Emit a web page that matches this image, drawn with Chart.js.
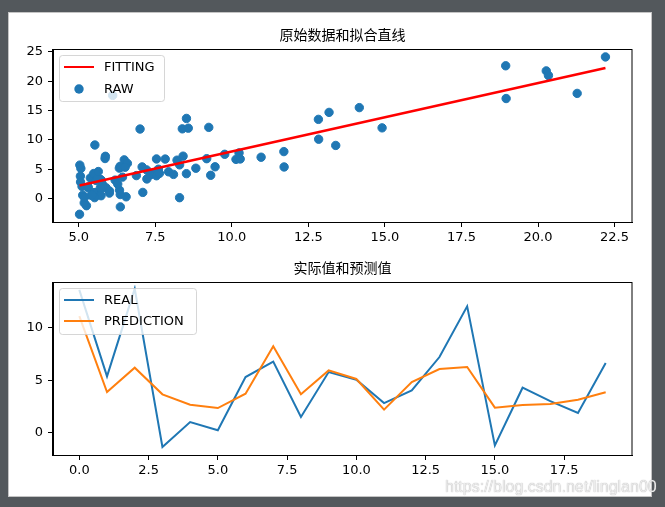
<!DOCTYPE html>
<html lang="zh">
<head>
    <meta charset="UTF-8">
    <title>原始数据和拟合直线 / 实际值和预测值</title>
    <script src="https://cdn.jsdelivr.net/npm/chart.js"></script>
    <style>
        body {
            margin: 0;
            width: 665px;
            height: 507px;
            background-color: #53585c;
            position: relative;
            overflow: hidden;
        }

        .panel {
            position: absolute;
            left: 8px;
            top: 12px;
            width: 644px;
            height: 485px;
            box-sizing: border-box;
            background-color: #fff;
            border: 1px solid #c4c4c4;
        }

        canvas {
            position: absolute;
            left: 0;
        }

        #fitChart { top: 0; }
        #predChart { top: 250px; }

        .mark {
            position: absolute;
            left: 445px;
            top: 478px;
            font-family: "Liberation Sans", Arial, sans-serif;
            font-size: 16px;
            color: #ececec;
            text-shadow: 0 0 1px #9a9a9a;
        }
    </style>
</head>
<body>
    <div class="panel"></div>
    <canvas id="fitChart" width="665" height="250"></canvas>
    <canvas id="predChart" width="665" height="230"></canvas>
    <div class="mark">https://blog.csdn.net/linglan00</div>

    <script>
        // raw points (population, profit)
        const popX = [6.1101, 5.5277, 8.5186, 7.0032, 5.8598, 8.3829, 7.4764, 8.5781, 6.4862, 5.0546,
            5.7107, 14.164, 5.734, 8.4084, 5.6407, 5.3794, 6.3654, 5.1301, 6.4296, 7.0708,
            6.1891, 20.27, 5.4901, 6.3261, 5.5649, 18.945, 12.828, 10.957, 13.176, 22.203,
            5.2524, 6.5894, 9.2482, 5.8918, 8.2111, 7.9334, 8.0959, 5.6063, 12.836, 6.3534,
            5.4069, 6.8825, 11.708, 5.7737, 7.8247, 7.0931, 5.0702, 5.8014, 11.7, 5.5416,
            7.5402, 5.3077, 7.4239, 7.6031, 6.3328, 6.3589, 6.2742, 5.6397, 9.3102, 9.4536,
            8.8254, 5.1793, 21.279, 14.908, 18.959, 7.2182, 8.2951, 10.236, 5.4994, 20.341,
            10.136, 7.3345, 6.0062, 7.2259, 5.0269, 6.5479, 7.5386, 5.0365, 10.274, 5.1077,
            5.7292, 5.1884, 6.3557, 9.7687, 6.5159, 8.5172, 9.1802, 6.002, 5.5204, 5.0594,
            5.7077, 7.6366, 5.8707, 5.3054, 8.2934, 13.394, 5.4369];
        const profitY = [17.592, 9.1302, 13.662, 11.854, 6.8233, 11.886, 4.3483, 12, 6.5987, 3.8166,
            3.2522, 15.505, 3.1551, 7.2258, 0.71618, 3.5129, 5.3048, 0.56077, 3.6518, 5.3893,
            3.1386, 21.767, 4.263, 5.1875, 3.0825, 22.638, 13.501, 7.0467, 14.692, 24.147,
            -1.22, 5.9966, 12.134, 1.8495, 6.5426, 4.5623, 4.1164, 3.3928, 10.117, 5.4974,
            0.55657, 3.9115, 5.3854, 2.4406, 6.7318, 1.0463, 5.1337, 1.844, 8.0043, 1.0179,
            6.7504, 1.8396, 4.2885, 4.9981, 1.4233, -1.4211, 2.4756, 4.6042, 3.9624, 5.4141,
            5.1694, -0.74279, 17.929, 12.054, 17.054, 4.8852, 5.7442, 7.7754, 1.0173, 20.992,
            6.6799, 4.0259, 1.2784, 3.3411, -2.6807, 0.29678, 3.8845, 5.7014, 6.7526, 2.0576,
            0.47953, 0.20421, 0.67861, 7.5435, 5.3436, 4.2415, 6.7981, 0.92695, 0.152, 2.8214,
            1.8451, 4.2959, 7.2029, 1.9869, 0.14454, 9.0551, 0.61705];

        // fitted line ends
        const fitX = [5.0269, 22.203];
        const fitY = [2.23, 22.27];

        const fitXTicks = [5, 7.5, 10, 12.5, 15, 17.5, 20, 22.5];
        const fitYTicks = [0, 5, 10, 15, 20, 25];

        // second plot
        const steps = [0, 1, 2, 3, 4, 5, 6, 7, 8, 9, 10, 11, 12, 13, 14, 15, 16, 17, 18, 19];
        const realVals = [13.6, 5.36, 13.7, -1.37, 1.01, 0.22, 5.3, 6.76, 1.49, 5.77,
            5.04, 2.82, 4.03, 7.2, 12.03, -1.21, 4.28, 3.0, 1.87, 6.63];
        const predVals = [11.1, 3.87, 6.19, 3.65, 2.66, 2.34, 3.71, 8.22, 3.65, 5.93,
            5.11, 2.19, 4.82, 6.06, 6.25, 2.38, 2.63, 2.72, 3.14, 3.84];

        const stepXTicks = [0, 2.5, 5, 7.5, 10, 12.5, 15, 17.5];
        const stepYTicks = [0, 5, 10];

        const BLUE = '#1f77b4';
        const ORANGE = '#ff7f0e';
        const RED = '#ff0000';
        const TICK_FONT = { family: 'DejaVu Sans', size: 13 };

        function axis(min, max, ticks, fmt, isX, size) {
            return {
                type: 'linear',
                min: min,
                max: max,
                afterBuildTicks: s => { s.ticks = ticks.map(v => ({ value: v })); },
                afterFit: s => { if (isX) s.height = size; else s.width = size; },
                ticks: {
                    callback: fmt,
                    color: '#000',
                    font: TICK_FONT,
                    padding: isX ? 3 : 5,
                    maxRotation: 0,
                    autoSkip: false
                },
                grid: { drawOnChartArea: false, drawTicks: true, tickLength: 5, color: '#000', lineWidth: 1 },
                border: { display: true, color: '#000', width: 1 }
            };
        }

        function roundBox(ctx, x, y, w, h, r) {
            ctx.beginPath();
            ctx.moveTo(x + r, y);
            ctx.lineTo(x + w - r, y);
            ctx.arcTo(x + w, y, x + w, y + r, r);
            ctx.lineTo(x + w, y + h - r);
            ctx.arcTo(x + w, y + h, x + w - r, y + h, r);
            ctx.lineTo(x + r, y + h);
            ctx.arcTo(x, y + h, x, y + h - r, r);
            ctx.lineTo(x, y + r);
            ctx.arcTo(x, y, x + r, y, r);
            ctx.closePath();
        }

        // frame, title and legend in matplotlib style
        function decor(title, titleY, box, items) {
            return {
                id: 'decor',
                afterDatasetsDraw(chart) {
                    const a = chart.chartArea, ctx = chart.ctx;
                    ctx.save();
                    ctx.strokeStyle = '#000';
                    ctx.lineWidth = 1;
                    ctx.strokeRect(Math.round(a.left) - 0.5, Math.round(a.top) + 0.5,
                        Math.round(a.right - a.left) + 0.5, Math.round(a.bottom - a.top));
                    ctx.restore();
                },
                afterDraw(chart) {
                    const a = chart.chartArea, ctx = chart.ctx;
                    ctx.save();
                    ctx.fillStyle = '#000';
                    ctx.font = '14px "Noto Sans CJK SC"';
                    ctx.textAlign = 'center';
                    ctx.textBaseline = 'middle';
                    ctx.fillText(title, (a.left + a.right) / 2, titleY);

                    roundBox(ctx, box.x + 0.5, box.y + 0.5, box.w, box.h, 3);
                    ctx.fillStyle = 'rgba(255,255,255,0.8)';
                    ctx.fill();
                    ctx.strokeStyle = 'rgba(204,204,204,0.8)';
                    ctx.lineWidth = 1;
                    ctx.stroke();

                    ctx.font = '13px "DejaVu Sans"';
                    ctx.textAlign = 'left';
                    items.forEach(it => {
                        if (it.kind === 'line') {
                            ctx.strokeStyle = it.color;
                            ctx.lineWidth = 2;
                            ctx.beginPath();
                            ctx.moveTo(box.x + 5, it.y);
                            ctx.lineTo(box.x + 35, it.y);
                            ctx.stroke();
                        } else {
                            ctx.fillStyle = it.color;
                            ctx.beginPath();
                            ctx.arc(box.x + 20, it.y, 4.7, 0, Math.PI * 2);
                            ctx.fill();
                        }
                        ctx.fillStyle = '#000';
                        ctx.fillText(it.label, box.x + 45, it.y + 1);
                    });
                    ctx.restore();
                }
            };
        }

        new Chart(document.getElementById('fitChart'), {
            type: 'scatter',
            data: {
                datasets: [{
                    type: 'line',
                    label: 'FITTING',
                    data: fitX.map((x, i) => ({ x: x, y: fitY[i] })),
                    borderColor: RED,
                    borderWidth: 2.5,
                    pointRadius: 0,
                    order: 0
                }, {
                    type: 'scatter',
                    label: 'RAW',
                    data: popX.map((x, i) => ({ x: x, y: profitY[i] })),
                    backgroundColor: BLUE,
                    borderColor: BLUE,
                    pointRadius: 4.2,
                    pointBorderWidth: 1,
                    order: 1
                }]
            },
            options: {
                responsive: false,
                animation: false,
                devicePixelRatio: 1,
                layout: { padding: { left: 0, right: 33, top: 49, bottom: 0 } },
                plugins: { legend: { display: false }, tooltip: { enabled: false } },
                scales: {
                    x: axis(4.16, 23.07, fitXTicks, v => v.toFixed(1), true, 28),
                    y: axis(-4.0, 25.5, fitYTicks, v => String(v), false, 53)
                }
            },
            plugins: [decor('原始数据和拟合直线', 35, { x: 59, y: 55, w: 105, h: 46 }, [
                { kind: 'line', label: 'FITTING', color: RED, y: 67 },
                { kind: 'dot', label: 'RAW', color: BLUE, y: 89 }
            ])]
        });

        new Chart(document.getElementById('predChart'), {
            type: 'line',
            data: {
                datasets: [{
                    label: 'REAL',
                    data: steps.map((s, i) => ({ x: s, y: realVals[i] })),
                    borderColor: BLUE,
                    borderWidth: 2,
                    pointRadius: 0,
                    tension: 0,
                    order: 1
                }, {
                    label: 'PREDICTION',
                    data: steps.map((s, i) => ({ x: s, y: predVals[i] })),
                    borderColor: ORANGE,
                    borderWidth: 2,
                    pointRadius: 0,
                    tension: 0,
                    order: 0
                }]
            },
            options: {
                responsive: false,
                animation: false,
                devicePixelRatio: 1,
                layout: { padding: { left: 0, right: 33, top: 32, bottom: 0 } },
                plugins: { legend: { display: false }, tooltip: { enabled: false } },
                scales: {
                    x: axis(-0.95, 19.95, stepXTicks, v => v.toFixed(1), true, 25),
                    y: axis(-2.13, 14.35, stepYTicks, v => String(v), false, 53)
                }
            },
            plugins: [decor('实际值和预测值', 18, { x: 59, y: 38, w: 137, h: 46 }, [
                { kind: 'line', label: 'REAL', color: BLUE, y: 50 },
                { kind: 'line', label: 'PREDICTION', color: ORANGE, y: 71 }
            ])]
        });
    </script>
</body>
</html>
